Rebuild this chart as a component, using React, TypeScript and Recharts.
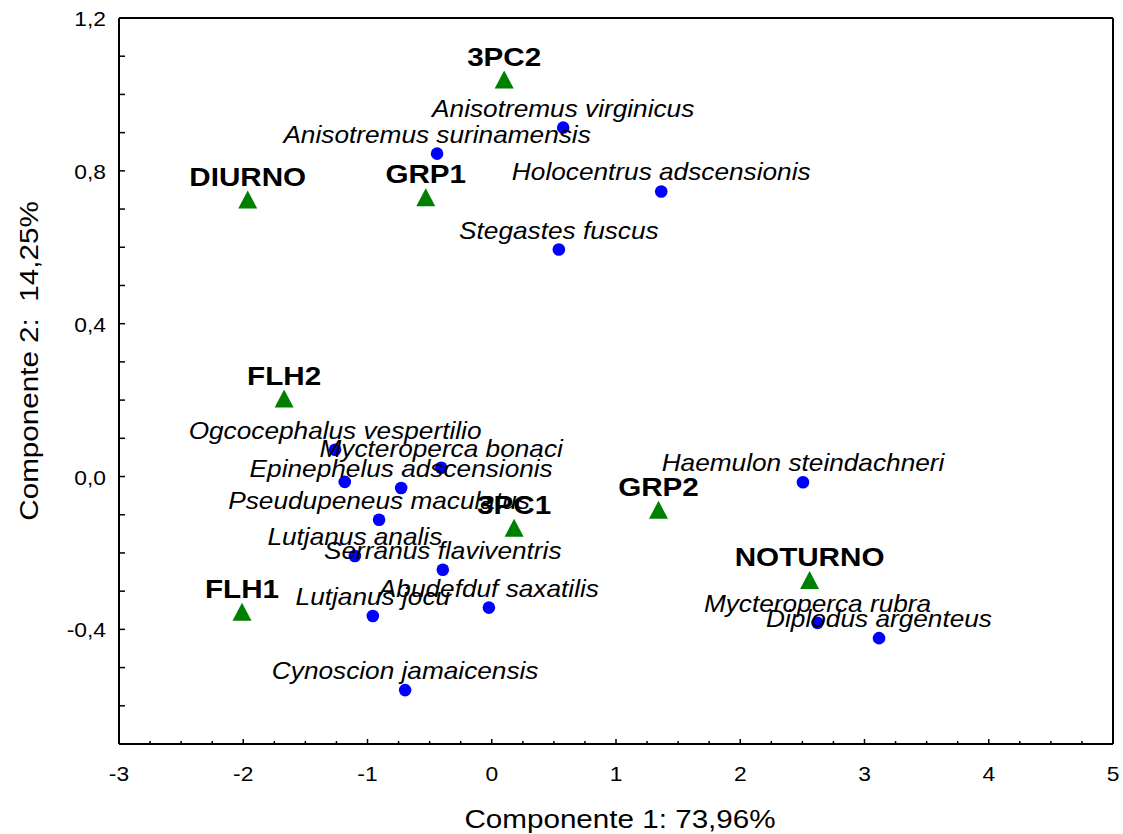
import { ScatterChart, Scatter, XAxis, YAxis } from "recharts";

// species (blue dots)
const speciesNames = [
  "Anisotremus virginicus",
  "Anisotremus surinamensis",
  "Holocentrus adscensionis",
  "Stegastes fuscus",
  "Ogcocephalus vespertilio",
  "Mycteroperca bonaci",
  "",
  "Epinephelus adscensionis",
  "Pseudupeneus maculatus",
  "Lutjanus analis",
  "Serranus flaviventris",
  "Abudefduf saxatilis",
  "Lutjanus jocu",
  "Cynoscion jamaicensis",
  "Haemulon steindachneri",
  "Mycteroperca rubra",
  "Diplodus argenteus",
];
const speciesX = [0.575, -0.44, 1.364, 0.54, -1.261, -0.407, -1.183, -0.729, -0.907, -1.102, -0.394, -0.023, -0.957, -0.697, 2.505, 2.622, 3.117];
const speciesY = [0.913, 0.845, 0.746, 0.594, 0.07, 0.023, -0.014, -0.03, -0.113, -0.208, -0.244, -0.343, -0.365, -0.559, -0.015, -0.383, -0.423];

// groups (green triangles)
const groupNames = ["3PC2", "DIURNO", "GRP1", "FLH2", "3PC1", "GRP2", "NOTURNO", "FLH1"];
const groupX = [0.1, -1.964, -0.531, -1.671, 0.18, 1.342, 2.558, -2.01];
const groupY = [1.039, 0.725, 0.731, 0.204, -0.134, -0.087, -0.271, -0.354];

const xDomain = [-3, 5];
const yDomain = [-0.7, 1.2];
const xTicks = Array.from({ length: 33 }, (_, i) => -3 + i * 0.25);
const yTicks = Array.from({ length: 20 }, (_, i) => Math.round((-0.7 + i * 0.1) * 10) / 10);
const rightTicks = Array.from({ length: 27 }, (_, i) => i);

const FONT = "Liberation Sans";
const SX = 1.14;

const species = speciesNames.map((name, i) => ({ name, x: speciesX[i], y: speciesY[i] }));
const groups = groupNames.map((name, i) => ({ name, x: groupX[i], y: groupY[i] }));

const fmtY = (v: number) => (Math.abs(v) < 1e-9 ? "0,0" : v.toFixed(1).replace(".", ","));

const StretchText = ({ x, y, children, size, anchor = "middle", weight = "normal", italic = false }: any) => (
  <text
    transform={`translate(${x},${y}) scale(${SX},1)`}
    textAnchor={anchor}
    fontFamily={FONT}
    fontSize={size}
    fontWeight={weight}
    fontStyle={italic ? "italic" : "normal"}
    fill="#000"
  >
    {children}
  </text>
);

const BottomTick = ({ x, y, payload }: any) => {
  const v = payload.value;
  const major = Math.abs(v - Math.round(v)) < 1e-6;
  return (
    <g>
      <line x1={x} x2={x} y1={y} y2={y - (major ? 5 : 3)} stroke="#000" strokeWidth={1.5} />
      {major && (
        <StretchText x={x} y={y + 37} size={20}>
          {String(Math.round(v))}
        </StretchText>
      )}
    </g>
  );
};

const TopTick = ({ x, y, payload }: any) => {
  const v = payload.value;
  const major = Math.abs(v - Math.round(v)) < 1e-6;
  return <line x1={x} x2={x} y1={y} y2={y + (major ? 5 : 3)} stroke="#000" strokeWidth={1.5} />;
};

const LeftTick = ({ x, y, payload }: any) => {
  const v = payload.value;
  const major = Math.abs(Math.round(v / 0.4) * 0.4 - v) < 1e-6;
  return (
    <g>
      <line x1={x} x2={x + 6} y1={y} y2={y} stroke="#000" strokeWidth={1.5} />
      {major && (
        <StretchText x={x - 13} y={y + 8} size={20} anchor="end">
          {fmtY(v)}
        </StretchText>
      )}
    </g>
  );
};

const RightTick = ({ x, y, payload }: any) => {
  const major = payload.value % 2 === 0;
  return <line x1={x} x2={x - (major ? 5 : 3)} y1={y} y2={y} stroke="#000" strokeWidth={1.5} />;
};

const SpeciesShape = ({ cx, cy, payload }: any) => (
  <g>
    <circle cx={cx} cy={cy} r={6.3} fill="#0000ff" />
    {payload.name && (
      <StretchText x={cx} y={cy - 11} size={23} italic>
        {payload.name}
      </StretchText>
    )}
  </g>
);

const GroupShape = ({ cx, cy, payload }: any) => (
  <g>
    <polygon points={`${cx},${cy - 9} ${cx - 9.5},${cy + 9} ${cx + 9.5},${cy + 9}`} fill="#008000" />
    <StretchText x={cx} y={cy - 14} size={26} weight="bold">
      {payload.name}
    </StretchText>
  </g>
);

const App = () => (
  <div style={{ position: "absolute", left: 0, top: 0, width: 1123, height: 834, background: "#fff" }}>
    <ScatterChart width={1123} height={834} margin={{ top: 0, right: 0, bottom: 0, left: 0 }}>
      <XAxis
        xAxisId="bottom"
        type="number"
        dataKey="x"
        domain={xDomain}
        ticks={xTicks}
        interval={0}
        height={90}
        tickSize={0}
        tickMargin={0}
        tick={<BottomTick />}
        axisLine={{ stroke: "#000", strokeWidth: 2 }}
        tickLine={false}
      />
      <XAxis
        xAxisId="top"
        orientation="top"
        type="number"
        dataKey="x"
        domain={xDomain}
        ticks={xTicks}
        interval={0}
        height={18}
        tickSize={0}
        tickMargin={0}
        tick={<TopTick />}
        axisLine={{ stroke: "#000", strokeWidth: 2 }}
        tickLine={false}
      />
      <YAxis
        yAxisId="left"
        type="number"
        dataKey="y"
        domain={yDomain}
        ticks={yTicks}
        interval={0}
        width={119}
        tickSize={0}
        tickMargin={0}
        tick={<LeftTick />}
        axisLine={{ stroke: "#000", strokeWidth: 2 }}
        tickLine={false}
      />
      <YAxis
        yAxisId="right"
        orientation="right"
        type="number"
        dataKey="y"
        domain={[0, 26]}
        ticks={rightTicks}
        interval={0}
        width={10}
        tickSize={0}
        tickMargin={0}
        tick={<RightTick />}
        axisLine={{ stroke: "#000", strokeWidth: 2 }}
        tickLine={false}
      />
      <Scatter data={[]} xAxisId="top" yAxisId="right" isAnimationActive={false} />
      <Scatter
        data={species}
        xAxisId="bottom"
        yAxisId="left"
        shape={<SpeciesShape />}
        isAnimationActive={false}
      />
      <Scatter
        data={groups}
        xAxisId="bottom"
        yAxisId="left"
        shape={<GroupShape />}
        isAnimationActive={false}
      />
      <text
        transform={`translate(620,828) scale(${SX},1)`}
        textAnchor="middle"
        fontFamily={FONT}
        fontSize={26}
        fill="#000"
      >
        Componente 1: 73,96%
      </text>
      <text
        transform={`translate(38,361) rotate(-90) scale(${SX},1)`}
        textAnchor="middle"
        fontFamily={FONT}
        fontSize={26}
        fill="#000"
        style={{ whiteSpace: "pre" }}
      >
        {"Componente 2:  14,25%"}
      </text>
    </ScatterChart>
  </div>
);

export default App;
